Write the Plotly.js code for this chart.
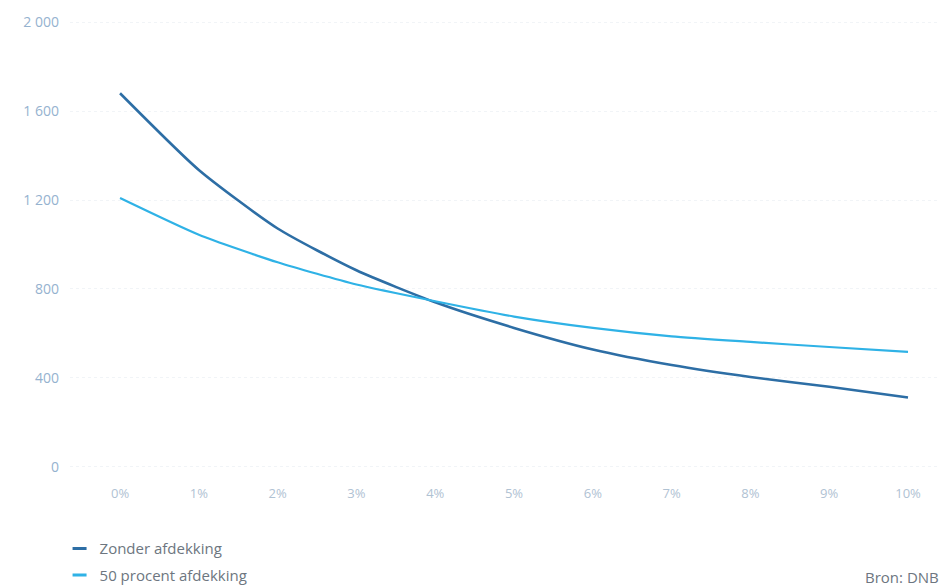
<!DOCTYPE html>
<html>
<head>
<meta charset="utf-8">
<script src="https://cdn.plot.ly/plotly-3.0.1.min.js"></script>
<style>html,body{margin:0;padding:0;background:#fff;}#chart{width:950px;height:587px;}</style>
</head>
<body>
<div id="chart"></div>
<script>
const xVals = [0, 1, 2, 3, 4, 5, 6, 7, 8, 9, 10];
const xLabels = ["0%", "1%", "2%", "3%", "4%", "5%", "6%", "7%", "8%", "9%", "10%"];
const zonderAfdekking = [1680, 1335, 1072, 884, 740, 625, 528, 458, 404, 360, 312];
const vijftigProcent = [1209, 1044, 920, 820, 745, 676, 625, 587, 562, 539, 517];
const yTickVals = [0, 400, 800, 1200, 1600, 2000];
const yTickText = ["0", "400", "800", "1 200", "1 600", "2 000"];
const seriesNames = ["Zonder afdekking", "50 procent afdekking"];
const seriesColors = ['#2d6ea5', '#2fb2e6'];

const traces = [
  {x: xVals, y: zonderAfdekking, name: seriesNames[0], type: 'scatter', mode: 'lines', showlegend: false,
   line: {color: seriesColors[0], width: 2.6, shape: 'spline', smoothing: 0.6}},
  {x: xVals, y: vijftigProcent, name: seriesNames[1], type: 'scatter', mode: 'lines', showlegend: false,
   line: {color: seriesColors[1], width: 2.2, shape: 'spline', smoothing: 0.6}},
  {x: [null], y: [null], name: seriesNames[0], type: 'scatter', mode: 'markers', legendgroup: 'a',
   marker: {symbol: 'line-ew-open', size: 10, color: seriesColors[0], line: {width: 3, color: seriesColors[0]}}},
  {x: [null], y: [null], name: seriesNames[1], type: 'scatter', mode: 'markers', legendgroup: 'b',
   marker: {symbol: 'line-ew-open', size: 10, color: seriesColors[1], line: {width: 3, color: seriesColors[1]}}}
];

const layout = {
  width: 950, height: 587,
  paper_bgcolor: '#ffffff', plot_bgcolor: '#ffffff',
  margin: {l: 70, r: 10, t: 11, b: 109, autoexpand: false},
  font: {family: 'Open Sans, sans-serif', color: '#9db5cc'},
  xaxis: {range: [-0.635, 10.406], tickvals: xVals, ticktext: xLabels,
    showgrid: false, zeroline: false, showline: false, ticks: '',
    tickfont: {size: 13, color: '#b0c2d3'}, ticklabelstandoff: 6},
  yaxis: {range: [-50, 2050], tickvals: yTickVals, ticktext: yTickText,
    showgrid: true, gridcolor: '#f1f4f7', griddash: 'dot', gridwidth: 1,
    zeroline: false, showline: false, ticks: '',
    tickfont: {size: 14, color: '#95b2cf'}, ticklabelstandoff: 10},
  showlegend: true,
  legend: {orientation: 'v', x: -0.012, xanchor: 'left', y: -0.116, yanchor: 'top',
    font: {size: 15, color: '#6d7680'}, itemwidth: 30, tracegroupgap: 4, traceorder: 'grouped',
    bgcolor: 'rgba(0,0,0,0)'},
  annotations: [{xref: 'paper', yref: 'paper', x: 0.911, y: -0.213, xanchor: 'left', yanchor: 'middle',
    text: 'Bron: DNB', showarrow: false, font: {size: 15, color: '#6d7680'}}]
};

Plotly.newPlot('chart', traces, layout, {displayModeBar: false, staticPlot: true});
</script>
</body>
</html>
